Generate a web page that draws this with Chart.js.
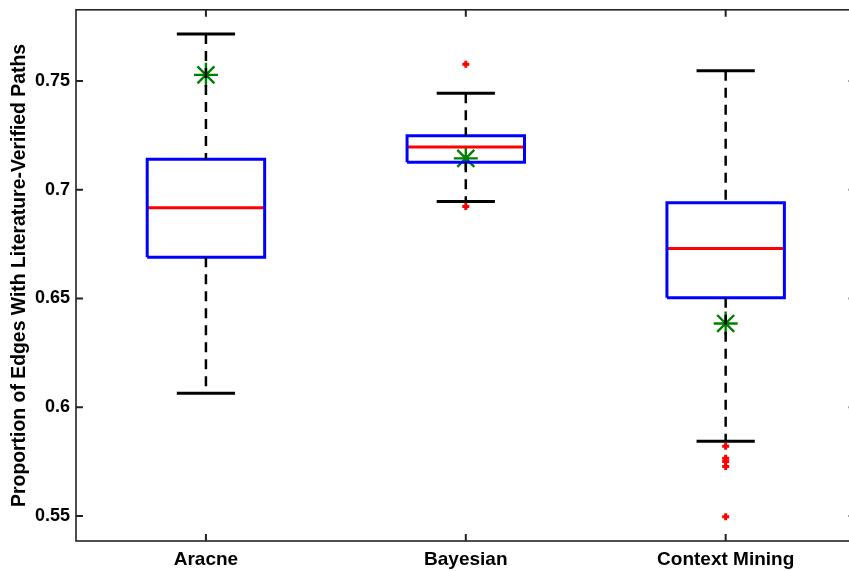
<!DOCTYPE html>
<html>
<head>
<meta charset="utf-8">
<script src="https://cdn.jsdelivr.net/npm/chart.js@4.4.1/dist/chart.umd.min.js"></script>
<style>
  html, body { margin: 0; padding: 0; background: #fff; overflow: hidden; }
  #wrap { position: relative; width: 849px; height: 571px; overflow: hidden; }
  canvas { display: block; position: absolute; left: 0; top: -7px; }
</style>
</head>
<body>
<div id="wrap"><canvas id="c" width="870" height="578"></canvas></div>
<script>
// ---- data ----
const categories = ['Aracne', 'Bayesian', 'Context Mining'];
const q1 = [0.6690, 0.7126, 0.6503];
const medians = [0.6917, 0.7196, 0.6730];
const q3 = [0.7140, 0.7248, 0.6940];
const whiskerLow = [0.6064, 0.6946, 0.5844];
const whiskerHigh = [0.7716, 0.7443, 0.7547];
const starValues = [0.7528, 0.7144, 0.6385];
const outliers = [[], [0.7577, 0.6923], [0.5821, 0.5765, 0.5750, 0.5727, 0.5496]];
const yTicks = [0.55, 0.6, 0.65, 0.7, 0.75];
const yLabel = 'Proportion of Edges With Literature-Verified Paths';

// ---- style constants ----
const BOX_HALF = 0.226;
const CAP_HALF = 0.112;
const FONT = '"Liberation Sans", Arial, sans-serif';

const seg = (pts, color, width, dash) => ({
  type: 'scatter', data: pts, showLine: true, borderColor: color, borderWidth: width,
  borderDash: dash || [], pointRadius: 0, fill: false, tension: 0
});

const datasets = [];
categories.forEach((c, i) => {
  const x = i + 1;
  // whiskers (dashed)
  datasets.push(seg([{x, y: whiskerHigh[i]}, {x, y: q3[i]}], '#000', 2.5, [10, 7]));
  datasets.push(seg([{x, y: q1[i]}, {x, y: whiskerLow[i]}], '#000', 2.5, [10, 7]));
  // caps
  datasets.push(seg([{x: x - CAP_HALF, y: whiskerHigh[i]}, {x: x + CAP_HALF, y: whiskerHigh[i]}], '#000', 3));
  datasets.push(seg([{x: x - CAP_HALF, y: whiskerLow[i]}, {x: x + CAP_HALF, y: whiskerLow[i]}], '#000', 3));
  // box
  datasets.push(seg([
    {x: x - BOX_HALF, y: q1[i]}, {x: x + BOX_HALF, y: q1[i]},
    {x: x + BOX_HALF, y: q3[i]}, {x: x - BOX_HALF, y: q3[i]},
    {x: x - BOX_HALF, y: q1[i]}
  ], '#0000ff', 3));
  // median
  datasets.push(seg([{x: x - BOX_HALF, y: medians[i]}, {x: x + BOX_HALF, y: medians[i]}], '#ff0000', 3));
});
// outliers
datasets.push({
  type: 'scatter',
  data: outliers.flatMap((arr, i) => arr.map(v => ({x: i + 1, y: v}))),
  pointStyle: 'cross', pointRadius: 3.5, borderColor: '#ff0000', borderWidth: 3,
  backgroundColor: '#ff0000', showLine: false
});
// stars
datasets.push({
  type: 'scatter',
  data: starValues.map((v, i) => ({x: i + 1, y: v})),
  pointStyle: 'star', pointRadius: 12, borderColor: '#008000', borderWidth: 2.4,
  backgroundColor: '#008000', showLine: false
});

const framePlugin = {
  id: 'frame',
  afterDatasetsDraw(chart) {
    const {ctx, chartArea: a, scales} = chart;
    ctx.save();
    ctx.strokeStyle = '#222';
    ctx.lineWidth = 1.6;
    ctx.strokeRect(a.left, a.top, a.right - a.left, a.bottom - a.top);
    ctx.lineWidth = 2;
    ctx.beginPath();
    const TL = 7;
    scales.y.ticks.forEach(t => {
      const py = scales.y.getPixelForValue(t.value);
      ctx.moveTo(a.left, py); ctx.lineTo(a.left + TL, py);
      ctx.moveTo(a.right, py); ctx.lineTo(a.right - TL, py);
    });
    scales.x.ticks.forEach(t => {
      const px = scales.x.getPixelForValue(t.value);
      ctx.moveTo(px, a.bottom); ctx.lineTo(px, a.bottom - TL);
      ctx.moveTo(px, a.top); ctx.lineTo(px, a.top + TL);
    });
    ctx.stroke();
    ctx.restore();
  }
};

new Chart(document.getElementById('c'), {
  type: 'scatter',
  data: { datasets },
  options: {
    responsive: false, maintainAspectRatio: false, animation: false, devicePixelRatio: 1,
    layout: { padding: { top: 10, right: 4, left: 0, bottom: 0 } },
    plugins: { legend: { display: false }, tooltip: { enabled: false } },
    scales: {
      x: {
        type: 'linear', min: 0.5, max: 3.5,
        grid: { display: false, drawTicks: false }, border: { display: false },
        afterBuildTicks: s => { s.ticks = categories.map((c, i) => ({ value: i + 1 })); },
        afterFit: s => { s.height = 30; },
        ticks: {
          color: '#000', padding: 7, maxRotation: 0, autoSkip: false,
          font: { family: FONT, weight: 'bold', size: 19 },
          callback: v => categories[Math.round(v) - 1]
        }
      },
      y: {
        type: 'linear', min: 0.5385, max: 0.7827,
        grid: { display: false, drawTicks: false }, border: { display: false },
        afterBuildTicks: s => { s.ticks = yTicks.map(v => ({ value: v })); },
        afterFit: s => { s.width = 76; },
        ticks: {
          color: '#000', padding: 6, autoSkip: false,
          font: { family: FONT, weight: 'bold', size: 18 },
          callback: v => String(v)
        },
        title: {
          display: true, text: yLabel, color: '#000',
          padding: { top: 8, bottom: 0 },
          font: { family: FONT, weight: 'bold', size: 19.4 }
        }
      }
    }
  },
  plugins: [framePlugin]
});
</script>
</body>
</html>
